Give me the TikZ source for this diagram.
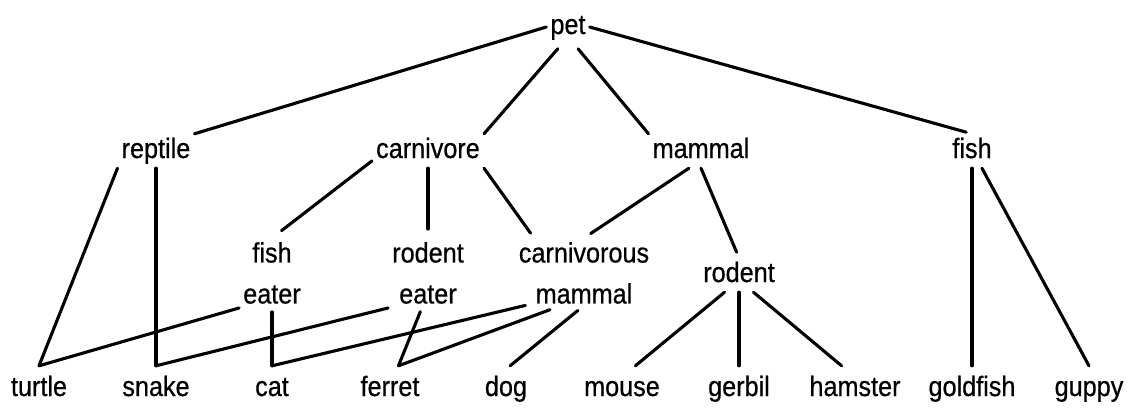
\documentclass[tikz,border=0pt]{standalone}
\usepackage{fontspec}
\setmainfont{Liberation Sans}[FakeStretch=0.9,FakeBold=0.6]
\usetikzlibrary{calc}
\begin{document}
\begin{tikzpicture}[x=1pt,y=-1pt,
  lbl/.style={font=\fontsize{28}{41}\selectfont, inner xsep=4pt, inner ysep=4pt,
              text height=20pt, text depth=6pt, anchor=base},
  leaf/.style={lbl, inner ysep=10pt},
  two/.style={font=\fontsize{28}{41}\selectfont, align=center, inner sep=4pt, anchor=north},
  conn/.style={line width=3.1pt, line cap=round}]
\useasboundingbox (0,0) rectangle (1127,408);
% top
\node[lbl] (pet) at (568,34) {pet};
% level 2
\node[lbl] (reptile)   at (156,158) {reptile};
\node[lbl] (carnivore) at (428,158) {carnivore};
\node[lbl] (mammal)    at (701,158) {mammal};
\node[lbl] (fish)      at (972,158) {fish};
% level 3
\node[two] (fisheater)   at (272,238) {fish\\eater};
\node[two] (rodenteater) at (428,238) {rodent\\eater};
\node[two] (carnmammal)  at (584,238) {carnivorous\\mammal};
\node[lbl] (rodent)      at (739,282) {rodent};
% leaves
\node[leaf] (turtle)   at (39,396)   {turtle};
\node[leaf] (snake)    at (156,396)  {snake};
\node[leaf] (cat)      at (272,396)  {cat};
\node[leaf] (ferret)   at (390,396)  {ferret};
\node[leaf] (dog)      at (506,396)  {dog};
\node[leaf] (mouse)    at (622,396)  {mouse};
\node[leaf] (gerbil)   at (739,396)  {gerbil};
\node[leaf] (hamster)  at (855,396)  {hamster};
\node[leaf] (goldfish) at (972,396)  {goldfish};
\node[leaf] (guppy)    at (1089,396) {guppy};
% connectors
\draw[conn] (pet.west) -- (reptile.north east);
\draw[conn, shorten <=6pt] (pet.250) -- (carnivore.north east);
\draw[conn, shorten <=6pt] (pet.290) -- (mammal.north west);
\draw[conn, shorten >=6pt] (pet.east) -- (fish.north);
\draw[conn] (reptile.south west) -- (turtle.north);
\draw[conn] (reptile.south) -- (snake.north);
\draw[conn, shorten >=12pt] (carnivore.190) -- (fisheater.north);
\draw[conn, shorten >=9pt] (carnivore.south) -- (rodenteater.north);
\draw[conn, shorten >=6pt] (carnivore.south east) -- (carnmammal.145);
\draw[conn, shorten >=8pt] (mammal.235) -- (carnmammal.north);
\draw[conn, shorten >=6pt] (mammal.south) -- (rodent.north);
\draw[conn] (fish.south) -- (goldfish.north);
\draw[conn] (fish.300) -- (guppy.north);
\draw[conn] (fisheater.south west) -- (turtle.north);
\draw[conn, shorten <=4pt] (fisheater.south) -- (cat.north);
\draw[conn] (rodenteater.south west) -- (snake.north);
\draw[conn, shorten <=4pt] (rodenteater.260) -- (ferret.70);
\draw[conn, shorten <=-11pt] (carnmammal.south west) -- (cat.north);
\draw[conn, shorten <=5pt] (carnmammal.230) -- (ferret.70);
\draw[conn, shorten <=4pt] (carnmammal.265) -- (dog.80);
\draw[conn] (rodent.230) -- (mouse.60);
\draw[conn] (rodent.south) -- (gerbil.north);
\draw[conn] (rodent.310) -- (hamster.120);
\end{tikzpicture}
\end{document}
